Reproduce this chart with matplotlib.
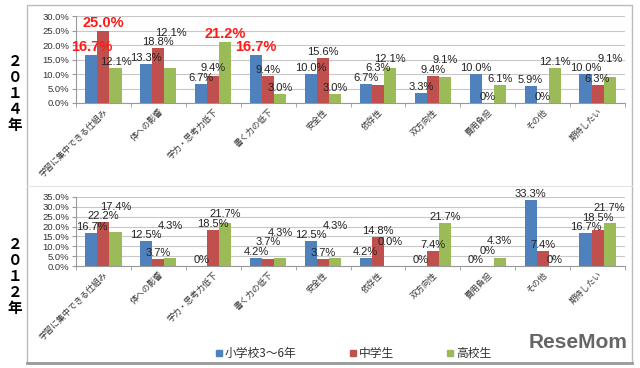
import matplotlib.pyplot as plt
import numpy as np
from matplotlib.patches import Rectangle
from matplotlib.lines import Line2D

plt.rcParams['font.family'] = ['Noto Sans CJK JP', 'DejaVu Sans']
NUM_FONT = ['Liberation Sans', 'DejaVu Sans']

categories = ['学習に集中できる仕組み', '体への影響', '学力・思考力低下', '書く力の低下', '安全性',
              '依存性', '双方向性', '費用負担', 'その他', '期待したい']
series_names = ['小学校3～6年', '中学生', '高校生']
colors = ['#4F81BD', '#C0504D', '#9BBB59']

# 2014
elem_2014 = [16.7, 13.3, 6.7, 16.7, 10.0, 6.7, 3.3, 10.0, 5.9, 10.0]
junior_2014 = [25.0, 18.8, 9.4, 9.4, 15.6, 6.3, 9.4, 0, 0, 6.3]
high_2014 = [12.1, 12.1, 21.2, 3.0, 3.0, 12.1, 9.1, 6.1, 12.1, 9.1]
labels_2014 = [
    ['16.7%', '13.3%', '6.7%', '16.7%', '10.0%', '6.7%', '3.3%', '10.0%', '5.9%', '10.0%'],
    ['25.0%', '18.8%', '9.4%', '9.4%', '15.6%', '6.3%', '9.4%', '0%', '0%', '6.3%'],
    ['12.1%', '12.1%', '21.2%', '3.0%', '3.0%', '12.1%', '9.1%', '6.1%', '12.1%', '9.1%'],
]
# highlighted labels (series index, category index)
red_2014 = [(0, 0), (1, 0), (2, 2), (0, 3)]

# 2012
elem_2012 = [16.7, 12.5, 0, 4.2, 12.5, 4.2, 0, 0, 33.3, 16.7]
junior_2012 = [22.2, 3.7, 18.5, 3.7, 3.7, 14.8, 7.4, 0, 7.4, 18.5]
high_2012 = [17.4, 4.3, 21.7, 4.3, 4.3, 0.0, 21.7, 4.3, 0, 21.7]
labels_2012 = [
    ['16.7%', '12.5%', '0%', '4.2%', '12.5%', '4.2%', '0%', '0%', '33.3%', '16.7%'],
    ['22.2%', '3.7%', '18.5%', '3.7%', '3.7%', '14.8%', '7.4%', '0%', '7.4%', '18.5%'],
    ['17.4%', '4.3%', '21.7%', '4.3%', '4.3%', '0.0%', '21.7%', '4.3%', '0%', '21.7%'],
]

fig = plt.figure(figsize=(6.4, 3.68), dpi=100)

# outer frame and separator
fig.add_artist(Rectangle((27 / 640, 1 - 363 / 368), (632 - 27) / 640, (363 - 5) / 368,
                         transform=fig.transFigure, fill=False, ec='#bbbbbb', lw=1.0))
fig.add_artist(Line2D([27 / 640, 632 / 640], [1 - 363 / 368, 1 - 363 / 368],
                      transform=fig.transFigure, color='#999999', lw=2))
fig.add_artist(Line2D([27 / 640, 632 / 640], [1 - 186 / 368, 1 - 186 / 368],
                      transform=fig.transFigure, color='#e4e4e4', lw=0.8))


def draw_panel(ax, data, labels, ymax, step, red=()):
    x = np.arange(len(categories))
    w = 0.22
    ax.set_xlim(-0.5, len(categories) - 0.5)
    ax.set_ylim(0, ymax)
    px_per_unit = ax.get_position().height * fig.get_figheight() * fig.dpi / ymax
    line_h = 9.5  # pixels needed between stacked labels
    placed = [[] for _ in categories]
    for i, vals in enumerate(data):
        xs = x + (i - 1) * w
        ax.bar(xs, vals, w, color=colors[i], zorder=3)
        for j, v in enumerate(vals):
            y_px = v * px_per_unit + 1
            # push a label up while it sits on top of another label in its group
            moved = True
            while moved:
                moved = False
                for p in placed[j]:
                    if abs(y_px - p) < line_h:
                        y_px = p + line_h
                        moved = True
            placed[j].append(y_px)
            off = (y_px - v * px_per_unit) * 72 / fig.dpi
            style = dict(fontsize=8, color='#222222', zorder=4)
            if (i, j) in red:
                style = dict(fontsize=10.5, color='#ff1a1a', fontweight='bold', zorder=5)
            ax.annotate(labels[i][j], (xs[j], v), xytext=(0, off), textcoords='offset points',
                        ha='center', va='bottom', family=NUM_FONT, annotation_clip=False,
                        **style)
    yt = np.arange(0, ymax + 0.01, step)
    ax.set_yticks(yt)
    ax.set_yticklabels([f'{t:.1f}%' for t in yt], fontsize=6.8, color='#333333',
                       family=NUM_FONT)
    ax.yaxis.grid(True, color='#c8c8c8', lw=0.8, zorder=0)
    ax.set_xticks(x)
    ax.set_xticklabels(categories, rotation=45, ha='right', rotation_mode='anchor',
                       fontsize=6, color='#333333')
    ax.set_xticks(np.arange(-0.5, len(categories)), minor=True)
    ax.tick_params(axis='x', which='major', length=0, pad=3)
    ax.tick_params(axis='x', which='minor', length=3, color='#999999')
    ax.tick_params(axis='y', length=3, color='#999999', pad=2)
    for s in ['top', 'right']:
        ax.spines[s].set_visible(False)
    for s in ['left', 'bottom']:
        ax.spines[s].set_color('#999999')


ax1 = fig.add_axes([76 / 640, 1 - 103 / 368, (625 - 76) / 640, (103 - 16) / 368])
draw_panel(ax1, [elem_2014, junior_2014, high_2014], labels_2014, 30, 5, red=red_2014)

ax2 = fig.add_axes([76 / 640, 1 - 266 / 368, (625 - 76) / 640, (266 - 197) / 368])
draw_panel(ax2, [elem_2012, junior_2012, high_2012], labels_2012, 35, 5)

# vertical year labels
fig.text(15 / 640, 1 - 93 / 368, '２\n０\n１\n４\n年', ha='center', va='center',
         fontsize=10.5, fontweight='bold', linespacing=1.0)
fig.text(15 / 640, 1 - 276 / 368, '２\n０\n１\n２\n年', ha='center', va='center',
         fontsize=10.5, fontweight='bold', linespacing=1.0)

# legend: small square patch + label
leg_x = [216, 350, 447]
for hx, c, name in zip(leg_x, colors, series_names):
    fig.add_artist(Rectangle((hx / 640, 1 - 356 / 368), 6 / 640, 6 / 368,
                             transform=fig.transFigure, color=c))
    fig.text((hx + 9) / 640, 1 - 353 / 368, name, color='#333333', fontsize=8.5,
             ha='left', va='center')

# watermark
fig.text(628 / 640, 1 - 343 / 368, 'ReseMom', color='#666666', fontsize=15,
         fontweight='bold', ha='right', va='center', family=NUM_FONT)

fig.savefig('out.png', dpi=100)
